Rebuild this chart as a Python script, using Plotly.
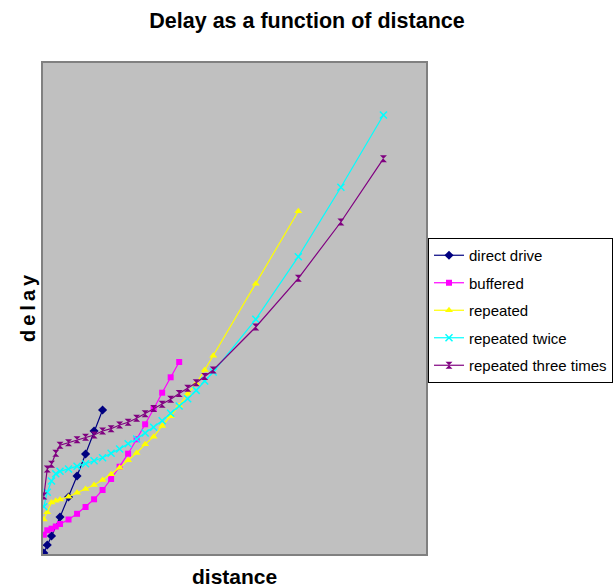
import plotly.graph_objects as go

# distances for each series
dist_direct = [0.1, 0.5, 1, 2, 3, 4, 5, 6, 7]
delay_direct = [1, 9, 18, 37, 57, 78, 100, 123, 144]

dist_buffered = [0.1, 0.5, 1, 1.5, 2, 3, 4, 5, 6, 7, 8, 9, 10, 11, 12, 13, 14, 15, 16]
delay_buffered = [19.3, 23.7, 25.3, 27.5, 30, 34.5, 40.2, 47, 54.7, 64, 75, 87.3, 100.3, 114.7, 129.7,
                  145, 161.3, 176.7, 192]

dist_repeated = [0.1, 0.5, 1, 1.5, 2, 3, 4, 5, 6, 7, 8, 9, 10, 11, 12, 13, 14, 15, 16, 17, 18, 19, 20,
                 25, 30]
delay_repeated = [34.5, 41.7, 51.6, 53.3, 54.6, 57.3, 61.3, 65, 69, 74, 79.7, 86.3, 93.7, 101, 109.7,
                  117.3, 128, 137.7, 148.3, 160.2, 170.7, 184, 198.3, 270.3, 342.7]

dist_twice = [0.1, 0.5, 1, 1.5, 2, 3, 4, 5, 6, 7, 8, 9, 10, 11, 12, 13, 14, 15, 16, 17, 18, 19, 20,
              25, 30, 35, 40]
delay_twice = [47.3, 61.7, 73, 80.3, 82.7, 85, 87.7, 90.3, 93.3, 96.3, 100.7, 105, 110.3, 115, 121,
               126.7, 133.3, 140.7, 148, 155.2, 163.6, 173, 182, 234.7, 297.3, 366.7, 439]

dist_three = [0.1, 0.5, 1, 1.5, 2, 3, 4, 5, 6, 7, 8, 9, 10, 11, 12, 13, 14, 15, 16, 17, 18, 19, 20,
              25, 30, 35, 40]
delay_three = [58, 85, 89.7, 100.7, 108.7, 111.3, 114.3, 116.7, 119, 123, 125.3, 129, 131.7, 135.7,
               140.3, 145.5, 149.8, 154.8, 160.5, 165.7, 171.2, 177.5, 184, 227, 275.7, 332, 395.3]

series_names = ["direct drive", "buffered", "repeated", "repeated twice", "repeated three times"]

FONT = "Liberation Sans, Arial, sans-serif"

fig = go.Figure()

def add(x, y, name, color, symbol, size, open_line=False):
    marker = dict(symbol=symbol, size=size, color=color, line=dict(width=0))
    if open_line:
        marker["line"] = dict(width=1.5, color=color)
    fig.add_trace(go.Scatter(x=x, y=y, name=name, mode="lines+markers", legendgroup=name,
                             line=dict(color=color, width=1.2), marker=marker))

add(dist_direct, delay_direct, series_names[0], "#000080", "diamond", 7)
add(dist_buffered, delay_buffered, series_names[1], "#FF00FF", "square", 6)
add(dist_repeated, delay_repeated, series_names[2], "#FFFF00", "triangle-up", 7)
add(dist_twice, delay_twice, series_names[3], "#00FFFF", "x-thin-open", 7, open_line=True)
add(dist_three, delay_three, series_names[4], "#800080", "hourglass", 7)

L, R, T, B = 43, 188, 63, 34
PW = 614 - L - R
PH = 588 - T - B

fig.update_layout(
    width=614, height=588,
    margin=dict(l=L, r=R, t=T, b=B, pad=0, autoexpand=False),
    paper_bgcolor="white",
    plot_bgcolor="#C0C0C0",
    font=dict(family=FONT, color="black"),
    title=dict(text="Delay as a function of distance", x=0.5, xanchor="center",
               y=1 - 20 / 588, yanchor="middle",
               font=dict(size=21.5, weight="bold", family=FONT, color="black")),
    showlegend=True,
    legend=dict(x=(428 - L) / PW, xanchor="left", y=(554 - 238) / PH, yanchor="top",
                bgcolor="white", bordercolor="black", borderwidth=1,
                font=dict(size=15, family=FONT, color="black"),
                tracegroupgap=5, itemwidth=30),
    xaxis=dict(range=[0, 45], showticklabels=False, ticks="", showgrid=False, zeroline=False,
               showline=True, mirror=True, linecolor="#808080", linewidth=2),
    yaxis=dict(range=[0, 491], showticklabels=False, ticks="", showgrid=False, zeroline=False,
               showline=True, mirror=True, linecolor="#808080", linewidth=2),
    annotations=[
        dict(text="distance", xref="paper", yref="paper", x=(234 - L) / PW, y=(554 - 576) / PH,
             xanchor="center", yanchor="middle", showarrow=False,
             font=dict(size=21, weight="bold", family=FONT, color="black")),
        dict(text="d\u2009e\u2009l\u2009a\u2009y", xref="paper", yref="paper",
             x=(27.5 - L) / PW, y=0.5, xanchor="center", yanchor="middle",
             textangle=-90, showarrow=False,
             font=dict(size=20, weight="bold", family=FONT, color="black")),
    ],
)

fig.write_html("out.html")
